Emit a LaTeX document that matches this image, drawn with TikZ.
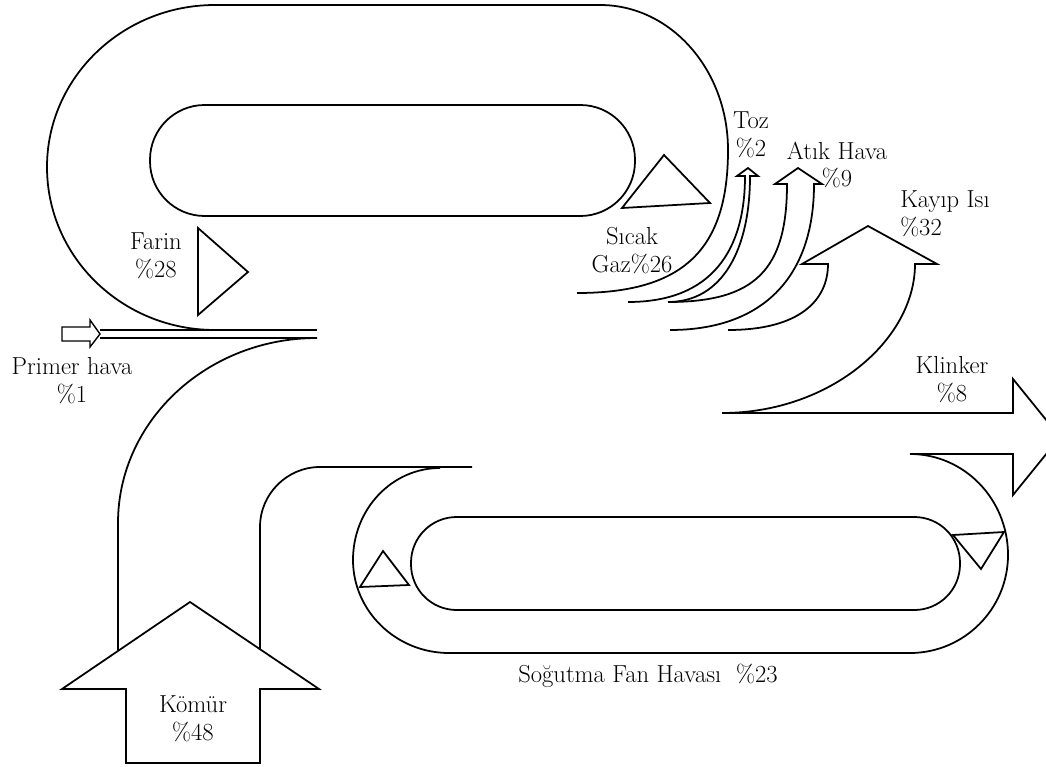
\documentclass[tikz,border=0pt]{standalone}
\usepackage{fontspec}
\usetikzlibrary{calc}
\tikzset{
  flowline/.style={line width=1.5pt, line join=miter},
  marker/.style={line width=1.5pt, fill=white},
  flowlabel/.style={align=center, inner sep=0pt, font=\fontsize{21}{23.8}\selectfont}
}

\begin{document}
\begin{tikzpicture}[x=0.03cm, y=-0.03cm]
  \useasboundingbox (0,0) rectangle (1046,767);
  \clip (0,0) rectangle (1046,767);

  % upper kiln
  \draw [flowline] (100,330) -- (317,330);
  \draw [flowline] (215,330) .. controls (122,330) and (47,257) .. (47,167)
    .. controls (47,78) and (122,5) .. (215,5) -- (600,5)
    .. controls (671,5) and (728,70) .. (728,150)
    .. controls (728,250) and (683,293) .. (577,293);
  \draw [flowline, rounded corners=1.64cm] (150,105) rectangle (635,216);

  % coal duct
  \draw [flowline] (100,338) -- (317,338) .. controls (207,338) and (118,421) .. (118,523) -- (118,650);
  \draw [flowline] (260,650) -- (260,527) .. controls (260,494) and (287,467) .. (320,467) -- (472,467);

  % outputs
  \draw [flowline] (628,302) .. controls (712,302) and (745,250) .. (745,176) -- (737,176) -- (748,168)
    -- (758,176) -- (750,176) .. controls (750,250) and (722,302) .. (668,302);
  \draw [flowline] (668,302) .. controls (755,302) and (787,270) .. (787,184) -- (775,184) -- (798,168)
    -- (822,184) -- (814,184) .. controls (814,280) and (760,330) .. (670,330);
  \draw [flowline] (728,330) .. controls (800,330) and (828,300) .. (828,264) -- (802,264) -- (868,226)
    -- (937,264) -- (915,264) .. controls (915,340) and (830,413) .. (722,413) -- (1013,413)
    -- (1013,379) -- (1060,437) -- (1013,495) -- (1013,454) -- (910,454)
    .. controls (964,454) and (1008,499) .. (1008,555)
    .. controls (1008,609) and (964,653) .. (910,653) -- (449,653)
    .. controls (396,653) and (353,611) .. (353,560)
    .. controls (353,509) and (392,468) .. (440,468);

  % cooler
  \draw [flowline, rounded corners=1.37cm] (411,517) rectangle (960,610);

  % direction marks
  \draw [marker] (198,228) -- (248,272) -- (198,315) -- cycle;
  \draw [marker] (664,155) -- (710,203) -- (622,208) -- cycle;
  \draw [marker] (383,551) -- (409,585) -- (360,587) -- cycle;
  \draw [marker] (953,535) -- (1004,532) -- (981,569) -- cycle;

  % inputs
  \draw [marker] (126,763) -- (126,689) -- (62,689) -- (190,602) -- (319,689) -- (260,689) -- (260,763) -- cycle;
  \draw [marker, line width=1.2pt] (62,327) -- (90,327) -- (90,320) -- (100,334) -- (90,347) -- (90,341) -- (62,341) -- cycle;

  \node [flowlabel] (farin) at (156,256) {Farin\\\%28};
  \node [flowlabel] (primer) at (72,381) {Primer hava\\\%1};
  \node [flowlabel] (komur) at (193,719) {Kömür\\\%48};
  \node [flowlabel] (sicak) at (632,251) {Sıcak\\Gaz\%26};
  \node [flowlabel] (toz) at (751,135) {Toz\\\%2};
  \node [flowlabel] (atik) at (837,165) {Atık Hava\\\%9};
  \node [flowlabel, align=left, anchor=west] (kayip) at (900,214) {Kayıp Isı\\\%32};
  \node [flowlabel] (klinker) at (952,380) {Klinker\\\%8};
  \node [flowlabel] (fan) at (648,676) {Soğutma Fan Havası\ \ \%23};
\end{tikzpicture}
\end{document}
